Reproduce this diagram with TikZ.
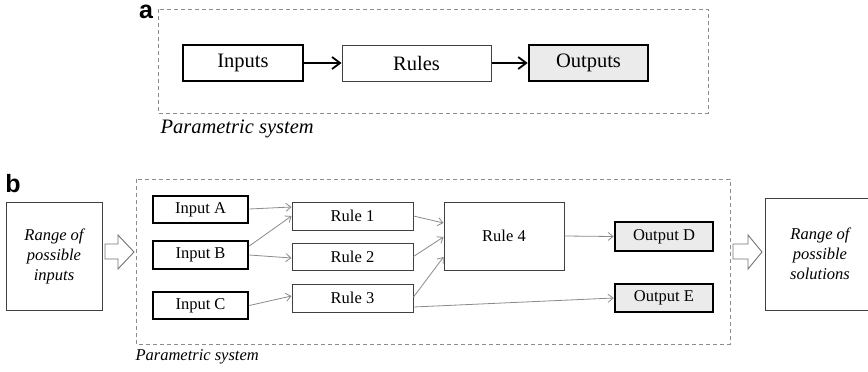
\documentclass[tikz,border=0pt]{standalone}
\usepackage{fontspec}
\setmainfont{Liberation Serif}
\newfontfamily\labelfont{Liberation Sans}
\usetikzlibrary{arrows.meta}
\definecolor{outfill}{HTML}{EBEBEB}
\definecolor{dashgray}{HTML}{8C8C8C}
\definecolor{linkgray}{HTML}{8A8A8A}
\tikzset{
  box/.style={draw, rectangle, inner sep=0pt, align=center},
  heavybox/.style={box, line width=2.6pt},
  lightbox/.style={box, line width=1pt, draw=black!75},
  outbox/.style={heavybox, fill=outfill},
  sysframe/.style={draw=dashgray, line width=1pt, dash pattern=on 4pt off 3pt},
  mainflow/.style={line width=1.8pt, -{Straight Barb[length=8pt,width=12pt,line width=1.8pt]}},
  link/.style={draw=linkgray, line width=0.8pt, -{Straight Barb[length=5pt,width=8pt,line width=0.8pt]}},
  blockarrow/.style={draw=black!55, line width=0.9pt, fill=white},
  panel/.style={font=\labelfont\bfseries\fontsize{25}{25}\selectfont},
  bigtxt/.style={font=\fontsize{20.5}{24}\selectfont},
  smalltxt/.style={font=\fontsize{16.5}{20}\selectfont},
}
\begin{document}
\begin{tikzpicture}[x=1pt,y=-1pt]
\useasboundingbox (0,0) rectangle (868,372);

% ---- panel a ----
\node[panel] (la) at (146,12) {a};
\draw[sysframe] (158,9) rectangle (708,113);
\node[heavybox, bigtxt, minimum width=120pt, minimum height=36pt] (inputs) at (243,63) {Inputs};
\node[lightbox, bigtxt, minimum width=149pt, minimum height=36pt] (rules) at (416.5,63) {Rules};
\node[outbox, bigtxt, minimum width=119pt, minimum height=36pt] (outputs) at (588.5,63) {Outputs};
\draw[mainflow] (inputs) -- (rules);
\draw[mainflow] (rules) -- (outputs);
\node[bigtxt, anchor=west] (psa) at (157,129) {\itshape Parametric system};

% ---- panel b ----
\node[panel] (lb) at (13,184) {b};
\draw[sysframe] (136,179) rectangle (730,344);

\node[lightbox, smalltxt, minimum width=96pt, minimum height=108pt] (rangein) at (54,256)
  {\itshape Range of\\ \itshape possible\\ \itshape inputs};
\node[lightbox, smalltxt, minimum width=110pt, minimum height=112pt] (rangeout) at (820,254)
  {\itshape Range of\\ \itshape possible\\ \itshape solutions};

% hollow block arrows into and out of the system
\draw[blockarrow] (105,244) -- (118,244) -- (118,235) -- (134,252) -- (118,269) -- (118,259) -- (105,259) -- cycle;
\draw[blockarrow] (733,244) -- (748,244) -- (748,235) -- (762,252) -- (748,269) -- (748,259) -- (733,259) -- cycle;

\node[heavybox, smalltxt, minimum width=95pt, minimum height=27pt] (ina) at (200.5,209.5) {Input A};
\node[heavybox, smalltxt, minimum width=95pt, minimum height=28pt] (inb) at (200.5,255) {Input B};
\node[heavybox, smalltxt, minimum width=95pt, minimum height=27pt] (inc) at (200.5,305.5) {Input C};

\node[lightbox, smalltxt, minimum width=121pt, minimum height=28pt] (r1) at (352.5,216) {Rule 1};
\node[lightbox, smalltxt, minimum width=121pt, minimum height=27pt] (r2) at (352.5,256.5) {Rule 2};
\node[lightbox, smalltxt, minimum width=121pt, minimum height=28pt] (r3) at (352.5,298) {Rule 3};
\node[lightbox, smalltxt, minimum width=120pt, minimum height=68pt] (r4) at (504,236) {Rule 4};

\node[outbox, smalltxt, minimum width=98pt, minimum height=29pt] (outd) at (664,236.5) {Output D};
\node[outbox, smalltxt, minimum width=98pt, minimum height=28pt] (oute) at (664,298) {Output E};

% thin links (yshift is upward on the page)
\draw[link] ([yshift=0.5pt]ina.east) -- ([yshift=9pt]r1.west);
\draw[link] ([yshift=9pt]inb.east) -- (r1.west);
\draw[link] (inb.east) -- ([yshift=-1.5pt]r2.west);
\draw[link] (inc.east) -- ([yshift=2pt]r3.west);
\draw[link] (r1.east) -- ([yshift=13pt]r4.west);
\draw[link] (r2.east) -- ([yshift=-1pt]r4.west);
\draw[link] ([yshift=1pt]r3.east) -- ([yshift=-21pt]r4.west);
\draw[link] ([yshift=-9pt]r3.east) -- (oute.west);
\draw[link] (r4.east) -- (outd.west);

\node[smalltxt, anchor=west] (psb) at (132,357) {\itshape Parametric system};
\end{tikzpicture}
\end{document}
